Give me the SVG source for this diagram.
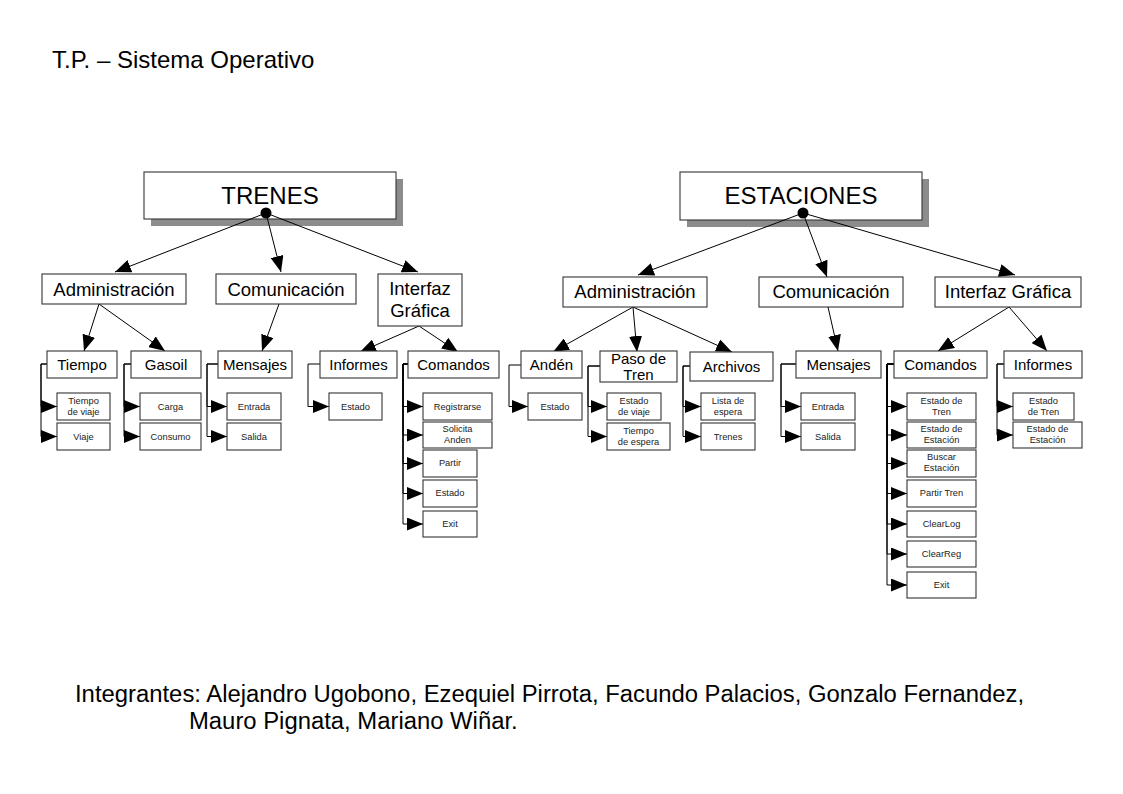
<svg xmlns="http://www.w3.org/2000/svg" width="1123" height="794" viewBox="0 0 1123 794">
<style>
text{font-family:"Liberation Sans",Arial,sans-serif;fill:#000}
.box{fill:#fff;stroke:#333;stroke-width:1.1}
.shadow{fill:#8c8c8c}
.t0{font-size:24px;text-anchor:middle}
.t1{font-size:18.5px;text-anchor:middle}
.t2{font-size:15px;text-anchor:middle}
.t3{font-size:9.3px;text-anchor:middle;fill:#222}
.big{font-size:24px}
.con line,.con path{stroke:#000;stroke-width:1;fill:none;marker-end:url(#ah)}
</style>
<defs>
<marker id="ah" markerUnits="userSpaceOnUse" markerWidth="16" markerHeight="13" refX="16" refY="6.5" orient="auto">
<path d="M0,0 L16,6.5 L0,13 z" fill="#000"/>
</marker>
</defs>
<rect width="1123" height="794" fill="#fff"/>
<text class="big" x="52" y="68">T.P. – Sistema Operativo</text>
<text class="big" x="75" y="702" style="font-size:23.85px">Integrantes: Alejandro Ugobono, Ezequiel Pirrota, Facundo Palacios, Gonzalo Fernandez,</text>
<text class="big" x="189" y="729" style="font-size:23.85px">Mauro Pignata, Mariano Wiñar.</text>

<!-- root nodes (drawn first so connectors start visibly at the dot) -->
<g id="trenes">
<rect class="shadow" x="151" y="179" width="252" height="47"/>
<rect class="box" x="144" y="172" width="252" height="47"/>
<text class="t0" x="270" y="204">TRENES</text>
<circle cx="266" cy="213" r="5.5" fill="#000"/>
</g>
<g id="estaciones">
<rect class="shadow" x="687" y="179" width="242" height="48"/>
<rect class="box" x="680" y="172" width="242" height="48"/>
<text class="t0" x="801" y="204">ESTACIONES</text>
<circle cx="803" cy="213" r="5.5" fill="#000"/>
</g>

<g id="connectors" class="con">
<!-- TRENES -->
<line x1="266" y1="213" x2="115" y2="272"/>
<line x1="266" y1="213" x2="281" y2="272"/>
<line x1="266" y1="213" x2="418" y2="272"/>
<line x1="99" y1="304" x2="84" y2="351"/>
<line x1="99" y1="304" x2="165" y2="351"/>
<line x1="279" y1="304" x2="262" y2="351"/>
<line x1="419" y1="326" x2="360" y2="352"/>
<line x1="419" y1="326" x2="458" y2="352"/>
<path d="M47,364 H41 V406.5 H57"/>
<path d="M47,364 H41 V436.5 H57"/>
<path d="M131,364 H124 V406.5 H140"/>
<path d="M131,364 H124 V436.5 H140"/>
<path d="M218,364 H207 V406.5 H227"/>
<path d="M218,364 H207 V436.5 H227"/>
<path d="M320,364 H308 V406.5 H329"/>
<path d="M408,364 H403 V406.5 H423"/>
<path d="M408,364 H403 V435 H423"/>
<path d="M408,364 H403 V463.5 H423"/>
<path d="M408,364 H403 V493.5 H423"/>
<path d="M408,364 H403 V524 H423"/>
<!-- ESTACIONES -->
<line x1="803" y1="213" x2="638" y2="275"/>
<line x1="803" y1="213" x2="827" y2="277"/>
<line x1="803" y1="213" x2="1015" y2="275"/>
<line x1="633" y1="307" x2="553" y2="352"/>
<line x1="633" y1="307" x2="637" y2="352"/>
<line x1="633" y1="307" x2="732" y2="352"/>
<line x1="828" y1="307" x2="838" y2="351"/>
<line x1="1009" y1="307" x2="938" y2="351"/>
<line x1="1009" y1="307" x2="1047" y2="351"/>
<path d="M521,365 H509 V406.5 H528"/>
<path d="M600,366 H588 V406.5 H607"/>
<path d="M600,366 H588 V436.5 H607"/>
<path d="M690,366 H683 V406.5 H701"/>
<path d="M690,366 H683 V436.5 H701"/>
<path d="M796,364 H781 V406.5 H801"/>
<path d="M796,364 H781 V436.5 H801"/>
<path d="M894,364 H887 V406.5 H907"/>
<path d="M894,364 H887 V435 H907"/>
<path d="M894,364 H887 V463.5 H907"/>
<path d="M894,364 H887 V493.5 H907"/>
<path d="M894,364 H887 V524 H907"/>
<path d="M894,364 H887 V554 H907"/>
<path d="M894,364 H887 V585 H907"/>
<path d="M1004,364 H997 V406.5 H1013"/>
<path d="M1004,364 H997 V435 H1013"/>
</g>

<!-- TRENES tree -->
<g id="t-admin"><rect class="box" x="42" y="274" width="144" height="30"/><text class="t1" x="114" y="296">Administración</text></g>
<g id="t-comun"><rect class="box" x="216" y="274" width="140" height="30"/><text class="t1" x="286" y="296">Comunicación</text></g>
<g id="t-interfaz"><rect class="box" x="378" y="274" width="84" height="52"/><text class="t1" x="420" y="295">Interfaz</text><text class="t1" x="420" y="317">Gráfica</text></g>

<g id="t-tiempo"><rect class="box" x="47" y="351" width="70" height="27"/><text class="t2" x="82" y="370">Tiempo</text></g>
<g id="t-gasoil"><rect class="box" x="131" y="351" width="70" height="27"/><text class="t2" x="166" y="370">Gasoil</text></g>
<g id="t-mensajes"><rect class="box" x="218" y="351" width="74" height="27"/><text class="t2" x="255" y="370">Mensajes</text></g>
<g id="t-informes"><rect class="box" x="320" y="351" width="77" height="27"/><text class="t2" x="358.5" y="370">Informes</text></g>
<g id="t-comandos"><rect class="box" x="408" y="351" width="91" height="27"/><text class="t2" x="453.5" y="370">Comandos</text></g>

<g id="t-tiempo-viaje"><rect class="box" x="57" y="393" width="53" height="27"/><text class="t3" x="83.5" y="404">Tiempo</text><text class="t3" x="83.5" y="415">de viaje</text></g>
<g id="t-viaje"><rect class="box" x="57" y="423" width="53" height="27"/><text class="t3" x="83.5" y="440">Viaje</text></g>
<g id="t-carga"><rect class="box" x="140" y="393" width="61" height="27"/><text class="t3" x="170.5" y="410">Carga</text></g>
<g id="t-consumo"><rect class="box" x="140" y="423" width="61" height="27"/><text class="t3" x="170.5" y="440">Consumo</text></g>
<g id="t-entrada"><rect class="box" x="227" y="393" width="54" height="27"/><text class="t3" x="254" y="410">Entrada</text></g>
<g id="t-salida"><rect class="box" x="227" y="423" width="54" height="27"/><text class="t3" x="254" y="440">Salida</text></g>
<g id="t-estado-inf"><rect class="box" x="329" y="393" width="53" height="27"/><text class="t3" x="355.5" y="410">Estado</text></g>
<g id="t-registrarse"><rect class="box" x="423" y="393" width="69" height="27"/><text class="t3" x="457.5" y="410">Registrarse</text></g>
<g id="t-solicita"><rect class="box" x="423" y="422" width="69" height="26"/><text class="t3" x="457.5" y="432">Solicita</text><text class="t3" x="457.5" y="443">Anden</text></g>
<g id="t-partir"><rect class="box" x="423" y="450" width="54" height="27"/><text class="t3" x="450" y="466">Partir</text></g>
<g id="t-estado-cmd"><rect class="box" x="423" y="480" width="54" height="27"/><text class="t3" x="450" y="496">Estado</text></g>
<g id="t-exit"><rect class="box" x="423" y="511" width="54" height="26"/><text class="t3" x="450" y="527">Exit</text></g>

<!-- ESTACIONES tree -->
<g id="e-admin"><rect class="box" x="563" y="277" width="144" height="30"/><text class="t1" x="635" y="298">Administración</text></g>
<g id="e-comun"><rect class="box" x="759" y="277" width="144" height="30"/><text class="t1" x="831" y="298">Comunicación</text></g>
<g id="e-interfaz"><rect class="box" x="935" y="277" width="146" height="30"/><text class="t1" x="1008" y="298">Interfaz Gráfica</text></g>

<g id="e-anden"><rect class="box" x="521" y="351" width="61" height="27"/><text class="t2" x="551.5" y="370">Andén</text></g>
<g id="e-paso"><rect class="box" x="600" y="351" width="77" height="31"/><text class="t2" x="638.5" y="364">Paso de</text><text class="t2" x="638.5" y="380">Tren</text></g>
<g id="e-archivos"><rect class="box" x="690" y="352" width="83" height="29"/><text class="t2" x="731.5" y="372">Archivos</text></g>
<g id="e-mensajes"><rect class="box" x="796" y="351" width="85" height="27"/><text class="t2" x="838.5" y="370">Mensajes</text></g>
<g id="e-comandos"><rect class="box" x="894" y="351" width="93" height="27"/><text class="t2" x="940.5" y="370">Comandos</text></g>
<g id="e-informes"><rect class="box" x="1004" y="351" width="78" height="27"/><text class="t2" x="1043" y="370">Informes</text></g>

<g id="e-estado-anden"><rect class="box" x="528" y="393" width="54" height="27"/><text class="t3" x="555" y="410">Estado</text></g>
<g id="e-estado-viaje"><rect class="box" x="607" y="393" width="54" height="27"/><text class="t3" x="634" y="404">Estado</text><text class="t3" x="634" y="415">de viaje</text></g>
<g id="e-tiempo-espera"><rect class="box" x="607" y="423" width="63" height="27"/><text class="t3" x="638.5" y="434">Tiempo</text><text class="t3" x="638.5" y="445">de espera</text></g>
<g id="e-lista"><rect class="box" x="701" y="393" width="54" height="27"/><text class="t3" x="728" y="404">Lista de</text><text class="t3" x="728" y="415">espera</text></g>
<g id="e-trenes"><rect class="box" x="701" y="423" width="54" height="27"/><text class="t3" x="728" y="440">Trenes</text></g>
<g id="e-entrada"><rect class="box" x="801" y="393" width="54" height="27"/><text class="t3" x="828" y="410">Entrada</text></g>
<g id="e-salida"><rect class="box" x="801" y="423" width="54" height="27"/><text class="t3" x="828" y="440">Salida</text></g>

<g id="e-c-estado-tren"><rect class="box" x="907" y="393" width="69" height="27"/><text class="t3" x="941.5" y="404">Estado de</text><text class="t3" x="941.5" y="415">Tren</text></g>
<g id="e-c-estado-est"><rect class="box" x="907" y="422" width="69" height="26"/><text class="t3" x="941.5" y="432">Estado de</text><text class="t3" x="941.5" y="443">Estación</text></g>
<g id="e-c-buscar"><rect class="box" x="907" y="450" width="69" height="27"/><text class="t3" x="941.5" y="460">Buscar</text><text class="t3" x="941.5" y="471">Estación</text></g>
<g id="e-c-partir"><rect class="box" x="907" y="480" width="69" height="27"/><text class="t3" x="941.5" y="496">Partir Tren</text></g>
<g id="e-c-clearlog"><rect class="box" x="907" y="511" width="69" height="26"/><text class="t3" x="941.5" y="527">ClearLog</text></g>
<g id="e-c-clearreg"><rect class="box" x="907" y="541" width="69" height="26"/><text class="t3" x="941.5" y="557">ClearReg</text></g>
<g id="e-c-exit"><rect class="box" x="907" y="572" width="69" height="26"/><text class="t3" x="941.5" y="588">Exit</text></g>

<g id="e-i-estado-tren"><rect class="box" x="1013" y="393" width="61" height="27"/><text class="t3" x="1043.5" y="404">Estado</text><text class="t3" x="1043.5" y="415">de Tren</text></g>
<g id="e-i-estado-est"><rect class="box" x="1013" y="422" width="69" height="26"/><text class="t3" x="1047.5" y="432">Estado de</text><text class="t3" x="1047.5" y="443">Estación</text></g>
</svg>
